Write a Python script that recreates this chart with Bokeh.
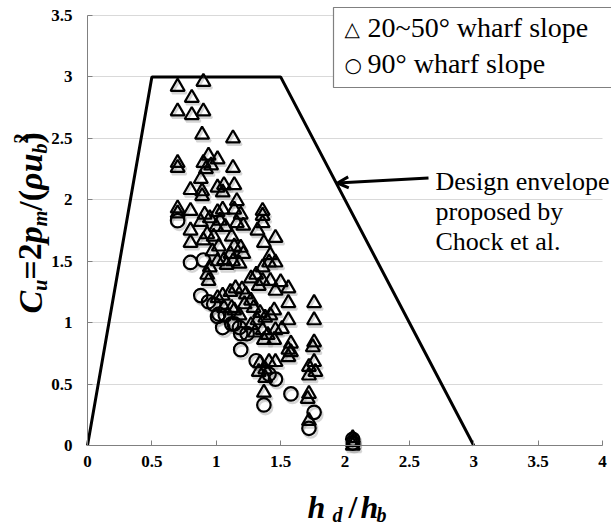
import math
from bokeh.plotting import figure
from bokeh.models import (Range1d, FixedTicker, Label, Arrow, OpenHead,
                          ColumnDataSource, NumeralTickFormatter)
from bokeh.transform import dodge
from bokeh.embed import file_html
from bokeh.resources import INLINE

# ---------------- data ----------------
tri_x = [0.70, 0.90, 0.81, 0.70, 0.81, 0.90, 0.89, 1.13,
         0.70, 0.70, 0.90, 0.94, 1.01, 0.96, 0.92, 1.13,
         0.88, 0.80, 0.89, 0.89, 1.01, 1.06, 1.05, 1.14, 1.16, 1.36,
         0.70, 0.70, 0.80, 0.91, 1.01, 1.05, 1.14, 1.19, 0.95,
         0.88, 0.80, 0.93, 0.90, 1.00, 1.07, 1.03, 1.16, 1.21, 1.36, 1.36, 1.32, 1.46, 1.12, 0.98, 0.80,
         1.14, 1.19, 1.11, 1.21, 1.37, 1.42, 1.46, 1.41, 1.06, 1.01, 1.18, 1.08, 1.13, 0.97, 1.02, 0.95,
         0.94, 0.93, 1.31, 1.36, 1.42, 1.56, 1.46, 1.15, 1.11, 1.20, 1.23, 1.05, 1.01, 1.27, 1.33, 1.36, 1.50,
         1.76, 1.56, 1.29, 1.34, 1.38, 1.32, 1.56, 1.76, 1.06, 1.12, 1.14, 1.18, 1.22, 1.27, 1.42, 1.45,
         1.27, 1.36, 1.37, 1.46, 1.45, 1.51, 1.40, 1.76, 1.75, 1.58, 1.56, 1.58, 1.30,
         1.56, 1.46, 1.41, 1.34, 1.38, 1.76, 1.72, 1.77, 1.72, 1.38, 1.37, 1.72, 1.71, 1.33,
         1.72, 2.06, 2.06, 2.06]
tri_y = [2.92, 2.96, 2.83, 2.72, 2.69, 2.72, 2.53, 2.50,
         2.30, 2.26, 2.30, 2.36, 2.33, 2.28, 2.25, 2.26,
         2.17, 2.08, 2.07, 2.03, 2.10, 2.12, 2.06, 2.12, 1.99, 1.91,
         1.93, 1.89, 1.91, 1.88, 1.90, 1.92, 1.92, 1.88, 1.85,
         1.82, 1.75, 1.72, 1.67, 1.78, 1.78, 1.83, 1.81, 1.79, 1.87, 1.81, 1.75, 1.69, 1.70, 1.70, 1.65,
         1.62, 1.61, 1.56, 1.56, 1.65, 1.55, 1.49, 1.49, 1.51, 1.50, 1.48, 1.47, 1.50, 1.58, 1.62, 1.45,
         1.34, 1.39, 1.39, 1.34, 1.34, 1.28, 1.26, 1.28, 1.25, 1.27, 1.23, 1.22, 1.20, 1.36, 1.30, 1.45, 1.33,
         1.16, 1.16, 1.12, 1.08, 1.04, 1.02, 1.02, 1.02, 1.12, 1.12, 1.10, 1.06, 1.15, 1.18, 1.06, 1.10,
         0.98, 0.94, 0.86, 0.94, 0.86, 0.95, 0.90, 0.84, 0.80, 0.83, 0.78, 0.76, 0.92,
         0.72, 0.68, 0.68, 0.67, 0.62, 0.68, 0.64, 0.60, 0.57, 0.55, 0.43, 0.42, 0.38, 0.60,
         0.20, 0.00, 0.03, 0.06]

cir_x = [0.70, 0.80, 0.90, 0.88, 0.94, 0.98, 1.01, 1.05, 1.02, 1.07, 1.12, 1.14,
         1.18, 1.19, 1.24, 1.19, 1.31, 1.41, 1.46, 1.58, 1.37, 1.76, 1.72, 2.06, 2.06]
cir_y = [1.83, 1.49, 1.51, 1.22, 1.17, 1.15, 1.05, 0.96, 1.07, 1.06, 0.99, 0.99,
         0.96, 0.91, 0.91, 0.78, 0.69, 0.58, 0.54, 0.42, 0.33, 0.27, 0.14, 0.02, 0.05]

env_x = [0, 0.5, 1.5, 3]
env_y = [0, 3, 3, 0]

x_ticks = [0, 0.5, 1, 1.5, 2, 2.5, 3, 3.5, 4]
y_ticks = [0, 0.5, 1, 1.5, 2, 2.5, 3, 3.5]

legend_symbols = ["\u25b3", "\u25cb"]
legend_labels = ["20~50\u00b0 wharf slope", "90\u00b0 wharf slope"]
note_lines = ["Design envelope", "proposed by", "Chock et al."]

# ---------------- geometry (page pixels -> data) ----------------
W, H = 611, 523
X0_PX, X4_PX = 87.0, 602.0      # where x=0 and x=4 sit
Y0_PX, Y35_PX = 445.0, 15.0     # where y=0 and y=3.5 sit
sx = (X4_PX - X0_PX) / 4.0
sy = (Y0_PX - Y35_PX) / 3.5
def X(px):
    return (px - X0_PX) / sx
def Y(py):
    return (Y0_PX - py) / sy
BL = 0.36  # text baseline correction (fraction of font size)

p = figure(width=W, height=H, x_range=Range1d(X(0), X(W)), y_range=Range1d(Y(H), Y(0)),
           output_backend="svg", toolbar_location=None,
           min_border=0, min_border_left=0, min_border_right=0,
           min_border_top=0, min_border_bottom=0)
p.outline_line_color = None
p.background_fill_color = "white"
p.border_fill_color = "white"

SERIF = "Liberation Serif"
for ax in (p.xaxis[0], p.yaxis[0]):
    ax.fixed_location = 0
    ax.axis_line_color = "#808080"
    ax.major_tick_line_color = "#808080"
    ax.major_tick_in = 5
    ax.major_tick_out = 0
    ax.minor_tick_line_color = None
    ax.major_label_text_font = SERIF
    ax.major_label_text_font_style = "bold"
    ax.major_label_text_font_size = "17px"
    ax.major_label_text_color = "black"
    ax.formatter = NumeralTickFormatter(format="0.[0]")
p.xaxis.bounds = (0, 4)
p.yaxis.bounds = (0, 3.5)
p.xaxis.ticker = FixedTicker(ticks=x_ticks)
p.yaxis.ticker = FixedTicker(ticks=y_ticks)
p.xaxis.major_label_standoff = 10
p.yaxis.major_label_standoff = 15
p.xgrid.grid_line_color = None
g = p.ygrid[0]
g.grid_line_color = "#d9d9d9"
g.ticker = FixedTicker(ticks=y_ticks)
g.bounds = (0, 3.5)
if "cross_bounds" in g.properties():
    g.cross_bounds = (0, 4)

# envelope
p.line(env_x, env_y, line_color="black", line_width=3)

tri_src = ColumnDataSource(dict(x=tri_x, y=tri_y))
cir_src = ColumnDataSource(dict(x=cir_x, y=cir_y))

# soft shadows
sdx, sdy = 0.012, -0.02
p.scatter(x=dodge("x", sdx), y=dodge("y", sdy), source=tri_src, marker="triangle", size=14,
          line_color="#888888", line_alpha=0.35, line_width=2.5, fill_alpha=0)
p.scatter(x=dodge("x", sdx), y=dodge("y", sdy), source=cir_src, marker="circle", size=13.5,
          line_color="#888888", line_alpha=0.35, line_width=2.5, fill_alpha=0)
# markers
p.scatter(x="x", y="y", source=tri_src, marker="triangle", size=14,
          line_color="black", line_width=2.2, fill_alpha=0)
p.scatter(x="x", y="y", source=cir_src, marker="circle", size=13.5,
          line_color="black", line_width=2.2, fill_alpha=0)

def htext(t, px, baseline_py, fs, font=SERIF, style="normal"):
    p.add_layout(Label(x=X(px), y=Y(baseline_py - BL * fs), text=t, text_font=font,
                       text_font_size=f"{fs}px", text_font_style=style, text_color="black",
                       text_align="left", text_baseline="alphabetic"))

# arrow + note
p.add_layout(Arrow(end=OpenHead(size=11, line_width=3, line_color="black"),
                   x_start=X(428), y_start=Y(177.5), x_end=X(337), y_end=Y(182.5),
                   line_width=3, line_color="black"))
for i, t in enumerate(note_lines):
    htext(t, 435, 190 + 30 * i, 26)

# legend box
p.quad(left=[X(333)], right=[X(640)], top=[Y(7)], bottom=[Y(87)],
       fill_color="white", line_color="#808080", line_width=1.2)
for i, (sym, t) in enumerate(zip(legend_symbols, legend_labels)):
    yb = 37 + 36 * i
    htext(sym, 344, yb - 1, 20, font="DejaVu Sans", style="bold" if i == 1 else "normal")
    htext(t, 367, yb, 28)

# x-axis title: h_d / h_b
xparts = [("h", 307, 518, 32, "bold italic"), ("d", 332, 522, 20, "bold italic"),
          ("/", 348, 518, 32, "bold"), ("h", 360, 518, 32, "bold italic"),
          ("b", 376, 522, 20, "bold italic")]
for t, px, py, fs, st in xparts:
    htext(t, px, py, fs, style=st)

# y-axis title: C_u = 2 p_m / (rho u_b^2), rotated, laid out bottom to top
F, f = 34, 20
base = 42
yparts = [("C", F, 0, "bold italic", 0.667), ("u", f, 5, "bold italic", 0.556),
          ("=", F, 0, "bold", 0.570), ("2", F, 0, "bold", 0.5),
          ("p", F, 0, "bold italic", 0.5), ("m", f, 5, "bold italic", 0.778),
          ("/", F, 0, "bold", 0.278), ("(", F, 0, "bold", 0.333),
          ("\u03c1", F, 0, "bold italic", 0.52), ("u", F, 0, "bold italic", 0.556),
          ("b", f, 5, "bold italic", 0.5), ("2", f, -14, "bold", 0.0),
          (")", F, 0, "bold", 0.333)]
pos = 313.0
for t, fs, dx, st, adv in yparts:
    p.add_layout(Label(x=X(base + dx - BL * fs), y=Y(pos), text=t, text_font=SERIF,
                       angle=math.pi / 2, text_font_size=f"{fs}px", text_font_style=st,
                       text_color="black", text_align="left", text_baseline="alphabetic"))
    pos -= adv * fs

open("out.html", "w").write(file_html(p, INLINE))
